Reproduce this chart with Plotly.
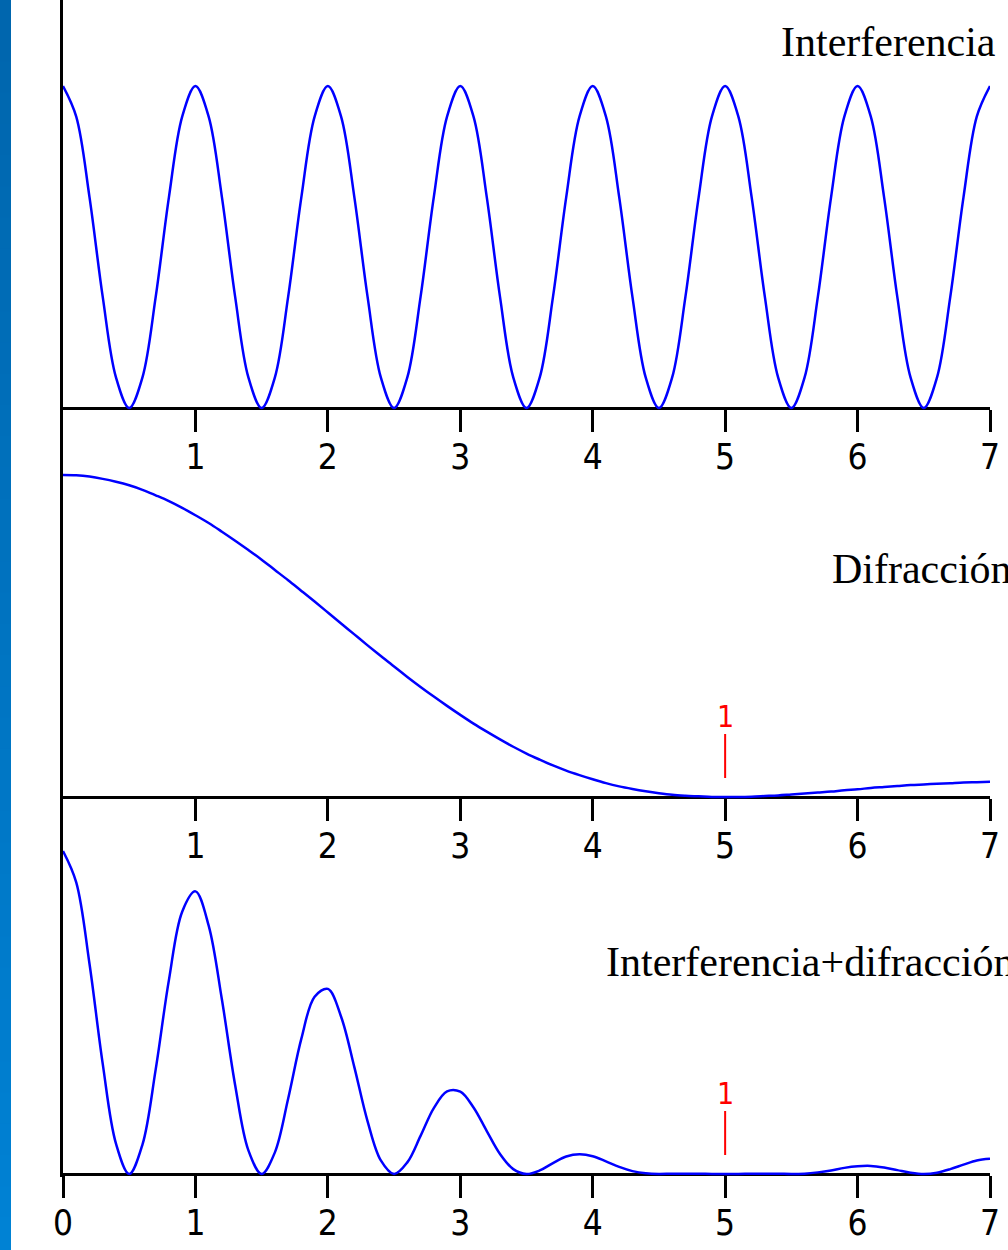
import plotly.graph_objects as go

# ---------------- data ----------------
x_vals = [round(i * 0.1, 1) for i in range(71)]

interferencia = [
    1.000, 0.905, 0.655, 0.345, 0.095, 0.000, 0.095, 0.345, 0.655, 0.905,
    1.000, 0.905, 0.655, 0.345, 0.095, 0.000, 0.095, 0.345, 0.655, 0.905,
    1.000, 0.905, 0.655, 0.345, 0.095, 0.000, 0.095, 0.345, 0.655, 0.905,
    1.000, 0.905, 0.655, 0.345, 0.095, 0.000, 0.095, 0.345, 0.655, 0.905,
    1.000, 0.905, 0.655, 0.345, 0.095, 0.000, 0.095, 0.345, 0.655, 0.905,
    1.000, 0.905, 0.655, 0.345, 0.095, 0.000, 0.095, 0.345, 0.655, 0.905,
    1.000, 0.905, 0.655, 0.345, 0.095, 0.000, 0.095, 0.345, 0.655, 0.905,
    1.000,
]

difraccion = [
    1.000, 0.999, 0.995, 0.988, 0.979, 0.968, 0.954, 0.937, 0.919, 0.898,
    0.875, 0.851, 0.824, 0.796, 0.767, 0.737, 0.705, 0.673, 0.640, 0.607,
    0.573, 0.539, 0.505, 0.471, 0.438, 0.405, 0.373, 0.342, 0.312, 0.283,
    0.255, 0.228, 0.203, 0.179, 0.156, 0.135, 0.116, 0.098, 0.082, 0.068,
    0.055, 0.043, 0.033, 0.025, 0.018, 0.012, 0.007, 0.004, 0.002, 0.000,
    0.000, 0.000, 0.001, 0.003, 0.005, 0.008, 0.011, 0.014, 0.017, 0.021,
    0.024, 0.028, 0.031, 0.034, 0.037, 0.039, 0.041, 0.043, 0.045, 0.046,
    0.047,
]

combinada = [
    1.000, 0.903, 0.651, 0.341, 0.094, 0.000, 0.091, 0.324, 0.601, 0.812,
    0.875, 0.769, 0.540, 0.275, 0.073, 0.000, 0.067, 0.233, 0.419, 0.549,
    0.573, 0.487, 0.331, 0.163, 0.042, 0.000, 0.036, 0.118, 0.204, 0.256,
    0.255, 0.206, 0.133, 0.062, 0.015, 0.000, 0.011, 0.034, 0.054, 0.061,
    0.055, 0.039, 0.022, 0.009, 0.002, 0.000, 0.001, 0.001, 0.001, 0.000,
    0.000, 0.000, 0.001, 0.001, 0.001, 0.000, 0.001, 0.005, 0.011, 0.019,
    0.024, 0.025, 0.020, 0.012, 0.004, 0.000, 0.004, 0.015, 0.029, 0.042,
    0.047,
]

ticks_upper = [1, 2, 3, 4, 5, 6, 7]
ticks_lower = [0, 1, 2, 3, 4, 5, 6, 7]
tick_labels_upper = ["1", "2", "3", "4", "5", "6", "7"]
tick_labels_lower = ["0", "1", "2", "3", "4", "5", "6", "7"]

titles = ["Interferencia", "Difracción", "Interferencia+difracción"]
marker_x = 5
marker_label = "1"

# ---------------- layout geometry (pixels) ----------------
W, H = 1008, 1250
X0_PX, X7_PX = 63, 990
# (domain top px, domain bottom px, baseline px, px per unit)
panels = [
    (0, 416, 408, 322),
    (416, 806, 797, 322),
    (806, 1177, 1174, 323),
]


def py(p):
    return 1 - p / H


fig = go.Figure()

series = [interferencia, difraccion, combinada]
for i, ys in enumerate(series):
    sfx = "" if i == 0 else str(i + 1)
    fig.add_trace(go.Scatter(
        x=x_vals, y=ys, mode="lines",
        line=dict(color="#0000FF", width=2.5, shape="spline", smoothing=1.0),
        xaxis="x" + sfx, yaxis="y" + sfx, showlegend=False, hoverinfo="skip",
    ))

tick_font = dict(family="DejaVu Sans Condensed, Liberation Sans Narrow, Arial", size=35, color="black")

for i, (top, bot, base, scale) in enumerate(panels):
    sfx = "" if i == 0 else str(i + 1)
    lower = i == 2
    fig.update_layout(**{
        "xaxis" + sfx: dict(
            domain=[X0_PX / W, X7_PX / W], range=[0, 7],
            anchor="free", position=py(base), automargin=False,
            showline=True, linecolor="black", linewidth=3,
            ticks="outside", ticklen=22, tickwidth=3, tickcolor="black",
            tickvals=ticks_lower if lower else ticks_upper,
            ticktext=tick_labels_lower if lower else tick_labels_upper,
            tickfont=tick_font, ticklabelstandoff=-5,
            showgrid=False, zeroline=False,
            layer="below traces", fixedrange=True,
        ),
        "yaxis" + sfx: dict(
            domain=[py(bot), py(top)],
            range=[-(bot - base) / scale, (base - top) / scale],
            anchor="x" + sfx, automargin=False,
            showline=True, linecolor="black", linewidth=3,
            ticks="", showticklabels=False, showgrid=False, zeroline=False,
            fixedrange=True,
        ),
    })

# titles
serif = dict(family="Liberation Serif, Times New Roman, serif", size=42, color="black")
title_pos = [(779, 42), (830, 569), (604, 962)]
for t, (tx, ty) in zip(titles, title_pos):
    fig.add_annotation(text=t, xref="paper", yref="paper", x=tx / W, y=py(ty),
                       xanchor="left", yanchor="middle", showarrow=False, font=serif)

# red markers at x = 5 in the lower two panels
for i in (1, 2):
    sfx = str(i + 1)
    top, bot, base, scale = panels[i]
    fig.add_annotation(
        text=marker_label, x=marker_x, y=19 / scale, xref="x" + sfx, yref="y" + sfx,
        showarrow=True, arrowhead=0, arrowwidth=2, arrowcolor="red",
        ax=0, ay=-62, standoff=0,
        font=dict(family="DejaVu Sans Condensed, Liberation Sans Narrow, Arial", size=30, color="red"),
        borderpad=0,
    )

# blue gradient bar on the left edge
n = 40
for k in range(n):
    f = k / (n - 1)
    g = int(0x66 + (0x82 - 0x66) * f)
    b = int(0xAE + (0xD4 - 0xAE) * f)
    fig.add_shape(type="rect", xref="paper", yref="paper",
                  x0=0, x1=11 / W, y0=1 - (k + 1) / n, y1=1 - k / n + 0.001,
                  fillcolor=f"rgb(0,{g},{b})", line=dict(width=0), layer="below")

fig.update_layout(
    template="none",
    width=W, height=H, margin=dict(l=0, r=0, t=0, b=0, pad=0, autoexpand=False),
    paper_bgcolor="white", plot_bgcolor="white", showlegend=False,
)

fig.write_html(
    "out.html",
    config={"responsive": False, "displayModeBar": False},
    post_script="document.body.style.margin='0';document.body.style.padding='0';"
                "document.documentElement.style.overflow='hidden';",
)
